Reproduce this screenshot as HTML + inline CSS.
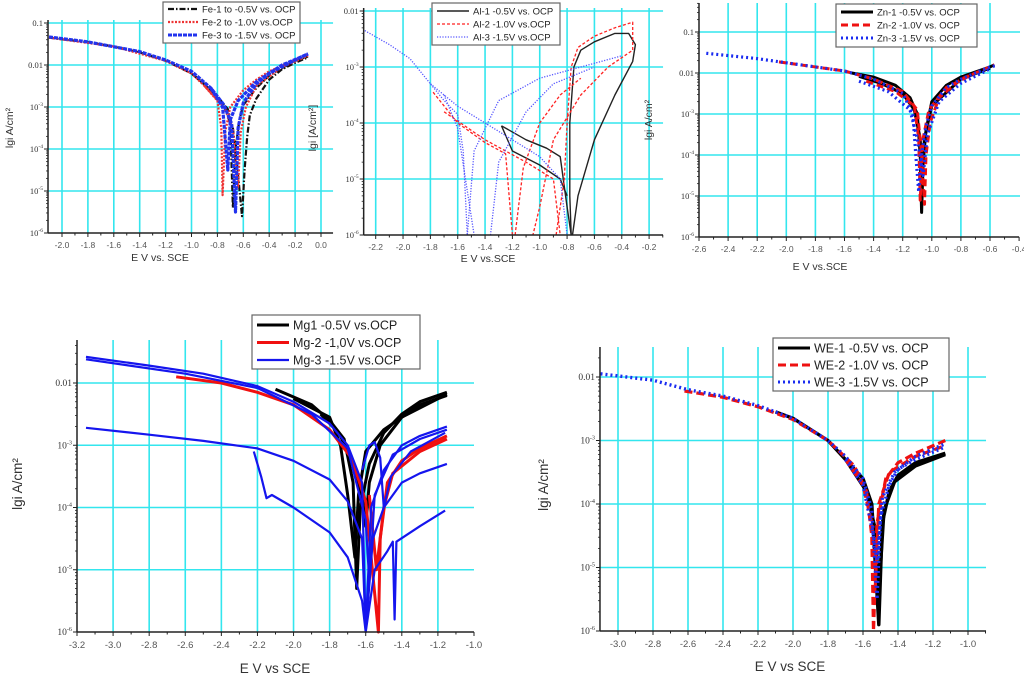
<!DOCTYPE html>
<html><head><meta charset="utf-8"><style>
html,body{margin:0;padding:0;background:#fff;}
svg{display:block;font-family:"Liberation Sans",sans-serif;}
</style></head><body>
<svg id="fig" width="1024" height="676" viewBox="0 0 1024 676" xmlns="http://www.w3.org/2000/svg"></svg>
<script>
// ---------- data (E in V vs SCE, log10 i in A/cm2) ----------
const feXTicks=[-2.0,-1.8,-1.6,-1.4,-1.2,-1.0,-0.8,-0.6,-0.4,-0.2,0.0];
const feYTicks=[-1,-2,-3,-4,-5,-6];
const fe1a=[[-2.1,-1.35],[-1.8,-1.46],[-1.6,-1.56],[-1.4,-1.7],[-1.2,-1.9],[-1.0,-2.2],[-0.9,-2.45],[-0.8,-2.75],[-0.72,-3.05],[-0.68,-3.5],[-0.65,-4.3],[-0.61,-5.6],[-0.59,-4.5],[-0.57,-3.7],[-0.55,-3.2],[-0.5,-2.8],[-0.4,-2.35],[-0.3,-2.1],[-0.2,-1.95],[-0.1,-1.82]];
const fe1b=[[-1.0,-2.2],[-0.85,-2.6],[-0.75,-2.95],[-0.7,-3.4],[-0.68,-5.4],[-0.66,-4.0],[-0.63,-3.3],[-0.6,-2.95],[-0.5,-2.55],[-0.4,-2.25],[-0.2,-1.9],[-0.1,-1.8]];
const fe2a=[[-2.1,-1.35],[-1.6,-1.56],[-1.2,-1.9],[-1.0,-2.2],[-0.9,-2.5],[-0.8,-2.85],[-0.77,-3.5],[-0.76,-5.1],[-0.74,-3.6],[-0.7,-3.0],[-0.6,-2.6],[-0.5,-2.35],[-0.4,-2.15],[-0.2,-1.88],[-0.1,-1.75]];
const fe2b=[[-0.9,-2.5],[-0.75,-3.0],[-0.68,-3.5],[-0.64,-4.9],[-0.62,-3.6],[-0.58,-3.0],[-0.5,-2.5],[-0.3,-2.05],[-0.1,-1.78]];
const fe3a=[[-2.1,-1.33],[-1.8,-1.45],[-1.4,-1.68],[-1.2,-1.88],[-1.0,-2.15],[-0.85,-2.55],[-0.75,-2.95],[-0.69,-3.4],[-0.66,-5.5],[-0.64,-3.5],[-0.6,-2.9],[-0.5,-2.45],[-0.4,-2.2],[-0.2,-1.88],[-0.1,-1.73]];
const fe3b=[[-0.85,-2.55],[-0.76,-3.0],[-0.72,-4.5],[-0.7,-3.3],[-0.64,-2.85],[-0.5,-2.4],[-0.3,-2.0],[-0.1,-1.74]];

const alXTicks=[-2.2,-2.0,-1.8,-1.6,-1.4,-1.2,-1.0,-0.8,-0.6,-0.4,-0.2];
const alYTicks=[-2,-3,-4,-5,-6];
const al3a=[[-2.28,-2.35],[-2.1,-2.6],[-1.95,-2.85],[-1.8,-3.3],[-1.7,-3.6],[-1.6,-3.85],[-1.56,-4.5],[-1.53,-6]];
const al3b=[[-1.53,-6],[-1.48,-4.5],[-1.3,-3.6],[-1.0,-3.2],[-0.7,-3.0],[-0.4,-2.8]];
const al3c=[[-1.8,-3.3],[-1.6,-3.7],[-1.4,-4.0],[-1.2,-4.3],[-1.0,-4.6],[-0.85,-5.0],[-0.8,-6]];
const al3d=[[-1.7,-3.5],[-1.6,-4.1],[-1.48,-6]];
const al3e=[[-1.36,-6],[-1.3,-4.7],[-1.1,-3.8],[-0.9,-3.3],[-0.6,-3.0]];
const al2a=[[-1.78,-3.45],[-1.6,-4.0],[-1.4,-4.35],[-1.25,-4.55],[-1.2,-6]];
const al2b=[[-1.7,-3.8],[-1.4,-4.3],[-1.1,-4.7],[-0.9,-5.0],[-0.85,-6]];
const al2c=[[-0.88,-6],[-0.82,-5.0],[-0.8,-4.0],[-0.77,-3.0],[-0.72,-2.65],[-0.6,-2.45],[-0.45,-2.3],[-0.32,-2.2],[-0.32,-2.7],[-0.5,-3.0],[-0.7,-3.5],[-0.9,-4.3],[-1.0,-5.5],[-1.05,-6]];
const al2d=[[-1.18,-6],[-1.12,-4.8],[-1.0,-4.0],[-0.85,-3.5],[-0.7,-3.2]];
const al1a=[[-1.28,-4.05],[-1.1,-4.3],[-0.95,-4.45],[-0.85,-4.6],[-0.8,-5.5],[-0.77,-6]];
const al1b=[[-1.28,-4.05],[-1.2,-4.5],[-1.0,-4.75],[-0.85,-5.0],[-0.8,-5.3]];
const al1c=[[-0.77,-6],[-0.78,-5.3],[-0.78,-4.0],[-0.75,-3.0],[-0.7,-2.7],[-0.6,-2.55],[-0.45,-2.4],[-0.35,-2.4],[-0.3,-2.6],[-0.32,-2.9],[-0.45,-3.5],[-0.6,-4.3],[-0.72,-5.3],[-0.76,-6]];

const znXTicks=[-2.6,-2.4,-2.2,-2.0,-1.8,-1.6,-1.4,-1.2,-1.0,-0.8,-0.6,-0.4];
const znYTicks=[-1,-2,-3,-4,-5,-6];
const zn3a=[[-2.55,-1.52],[-2.2,-1.65],[-2.0,-1.75],[-1.6,-1.95],[-1.4,-2.15],[-1.2,-2.5],[-1.13,-3.0],[-1.11,-4.0],[-1.09,-4.9],[-1.07,-4.0],[-1.04,-3.3],[-1.0,-2.8],[-0.9,-2.35],[-0.8,-2.15],[-0.6,-1.85],[-0.56,-1.82]];
const zn3b=[[-1.5,-2.2],[-1.3,-2.45],[-1.15,-2.9],[-1.1,-3.6],[-1.06,-4.5],[-1.03,-3.5],[-0.95,-2.7],[-0.8,-2.25],[-0.6,-1.9]];
const zn1a=[[-1.55,-2.0],[-1.4,-2.1],[-1.25,-2.3],[-1.15,-2.6],[-1.1,-3.0],[-1.08,-4.0],[-1.07,-5.4],[-1.06,-4.2],[-1.04,-3.4],[-1.0,-2.7],[-0.9,-2.3],[-0.8,-2.1],[-0.6,-1.85],[-0.57,-1.8]];
const zn1b=[[-1.5,-2.08],[-1.35,-2.25],[-1.2,-2.5],[-1.12,-2.9],[-1.08,-3.6],[-1.07,-4.5],[-1.05,-3.6],[-1.0,-2.8],[-0.8,-2.15],[-0.6,-1.88]];
const zn2a=[[-2.05,-1.73],[-1.6,-1.95],[-1.4,-2.15],[-1.2,-2.45],[-1.1,-2.9],[-1.07,-4.0],[-1.05,-5.2],[-1.04,-4.0],[-1.01,-3.2],[-0.95,-2.6],[-0.8,-2.15],[-0.6,-1.85],[-0.57,-1.8]];
const zn2b=[[-1.45,-2.2],[-1.25,-2.45],[-1.12,-2.8],[-1.09,-3.6],[-1.08,-5.1],[-1.06,-3.6],[-1.02,-2.9],[-0.9,-2.35],[-0.7,-2.0]];

const mgXTicks=[-3.2,-3.0,-2.8,-2.6,-2.4,-2.2,-2.0,-1.8,-1.6,-1.4,-1.2,-1.0];
const mgYTicks=[-2,-3,-4,-5,-6];
const mg1a=[[-2.1,-2.1],[-1.9,-2.35],[-1.8,-2.6],[-1.72,-2.9],[-1.67,-3.6],[-1.65,-5.3],[-1.63,-4.0],[-1.58,-3.3],[-1.5,-2.8],[-1.4,-2.5],[-1.3,-2.3],[-1.15,-2.15]];
const mg1b=[[-1.85,-2.5],[-1.75,-2.8],[-1.68,-3.2],[-1.62,-3.8],[-1.6,-4.3],[-1.58,-3.6],[-1.52,-3.0],[-1.4,-2.55],[-1.15,-2.18]];
const mg1c=[[-2.0,-2.25],[-1.8,-2.55],[-1.74,-3.0],[-1.7,-3.8],[-1.66,-4.8],[-1.64,-3.8],[-1.6,-3.1],[-1.5,-2.75],[-1.3,-2.35],[-1.15,-2.2]];
const mg2a=[[-2.65,-1.9],[-2.4,-2.0],[-2.2,-2.15],[-2.0,-2.35],[-1.8,-2.75],[-1.68,-3.2],[-1.6,-3.9],[-1.53,-6],[-1.52,-4.5],[-1.48,-3.6],[-1.4,-3.25],[-1.3,-3.05],[-1.15,-2.85]];
const mg2b=[[-1.58,-3.8],[-1.54,-5.0],[-1.5,-4.0],[-1.45,-3.45],[-1.3,-3.1],[-1.15,-2.9]];
const mg3a=[[-3.15,-1.58],[-2.8,-1.72],[-2.5,-1.85],[-2.2,-2.05],[-2.0,-2.3],[-1.8,-2.65],[-1.7,-3.0],[-1.62,-3.6],[-1.6,-6],[-1.57,-4.0],[-1.5,-3.4],[-1.4,-3.0],[-1.3,-2.85],[-1.15,-2.7]];
const mg3b=[[-3.15,-2.72],[-2.8,-2.83],[-2.5,-2.93],[-2.2,-3.05],[-2.0,-3.25],[-1.8,-3.55],[-1.7,-3.9],[-1.62,-4.5],[-1.6,-6],[-1.56,-4.5],[-1.5,-4.0],[-1.4,-3.6],[-1.3,-3.45],[-1.15,-3.3]];
const mg3c=[[-2.22,-3.1],[-2.18,-3.5],[-2.15,-3.85],[-2.12,-3.8],[-2.0,-4.0],[-1.8,-4.4],[-1.7,-4.8],[-1.62,-5.5],[-1.6,-6],[-1.55,-5.0],[-1.48,-4.7],[-1.45,-4.55],[-1.44,-5.8],[-1.43,-4.55],[-1.3,-4.3],[-1.16,-4.05]];
const mg3d=[[-1.62,-3.4],[-1.58,-3.0],[-1.55,-2.95],[-1.52,-3.2],[-1.5,-4.0],[-1.46,-3.5],[-1.35,-3.1],[-1.16,-2.8]];
const mg3e=[[-3.15,-1.62],[-2.6,-1.85],[-2.2,-2.08],[-1.9,-2.5],[-1.7,-3.05],[-1.6,-4.2],[-1.58,-5.2],[-1.55,-3.8],[-1.45,-3.15],[-1.3,-2.9],[-1.15,-2.75]];

const weXTicks=[-3.0,-2.8,-2.6,-2.4,-2.2,-2.0,-1.8,-1.6,-1.4,-1.2,-1.0];
const weYTicks=[-2,-3,-4,-5,-6];
const we3a=[[-3.1,-1.95],[-2.8,-2.05],[-2.6,-2.2],[-2.4,-2.3],[-2.2,-2.45],[-2.0,-2.65],[-1.8,-3.0],[-1.7,-3.25],[-1.6,-3.6],[-1.55,-4.1],[-1.52,-5.5],[-1.5,-4.2],[-1.45,-3.7],[-1.4,-3.45],[-1.3,-3.3],[-1.13,-3.1]];
const we3b=[[-1.7,-3.3],[-1.6,-3.7],[-1.54,-4.5],[-1.52,-4.9],[-1.49,-3.9],[-1.42,-3.5],[-1.3,-3.25],[-1.13,-3.05]];
const we2a=[[-2.62,-2.22],[-2.4,-2.32],[-2.2,-2.47],[-2.0,-2.67],[-1.8,-3.0],[-1.65,-3.4],[-1.58,-3.8],[-1.55,-4.5],[-1.54,-6],[-1.52,-4.3],[-1.47,-3.6],[-1.4,-3.35],[-1.3,-3.2],[-1.13,-3.0]];
const we2b=[[-1.7,-3.3],[-1.6,-3.7],[-1.55,-4.3],[-1.53,-5.3],[-1.51,-4.0],[-1.45,-3.5],[-1.3,-3.25],[-1.13,-3.08]];
const we1a=[[-2.1,-2.55],[-2.0,-2.65],[-1.8,-3.0],[-1.6,-3.6],[-1.55,-4.0],[-1.51,-5.9],[-1.49,-4.3],[-1.45,-3.8],[-1.4,-3.55],[-1.3,-3.35],[-1.13,-3.2]];
const we1b=[[-1.7,-3.3],[-1.58,-3.8],[-1.53,-4.4],[-1.51,-5.4],[-1.48,-4.1],[-1.42,-3.65],[-1.3,-3.4],[-1.13,-3.22]];

// ---------- drawing ----------
const NS='http://www.w3.org/2000/svg';
const svg=document.getElementById('fig');
function mk(tag,attrs,parent){const e=document.createElementNS(NS,tag);for(const k in attrs)e.setAttribute(k,attrs[k]);(parent||svg).appendChild(e);return e;}

function panel(cfg){
  const g=mk('g',{});
  
  
  const sx=v=>cfg.px0+(v-cfg.x0)*cfg.pxPer;
  const sy=l=>cfg.yTopPx+(cfg.yTopLog-l)*cfg.dec;
  const L=sx(cfg.xmin),R=sx(cfg.xmax),B=sy(-6),T=cfg.axTop;
  cfg.xt.forEach(v=>{const x=sx(v);if(x>L+1&&x<R-0.5){const ln=mk('line',{x1:x,x2:x,y1:T,y2:B,stroke:'#33e6ee','stroke-width':1.6},g);}});
  cfg.yt.forEach(l=>{if(l>-6){const y=sy(l);const ln=mk('line',{x1:L,x2:cfg.gridR||R,y1:y,y2:y,stroke:'#33e6ee','stroke-width':1.6},g);}});
  cfg.series.forEach(s=>{s.curves.forEach(c=>{
    const d=c.map((p,i)=>(i?'L':'M')+sx(p[0]).toFixed(1)+' '+sy(p[1]).toFixed(1)).join(' ');
    const path=mk('path',{d:d,fill:'none',stroke:s.color,'stroke-width':s.w,'stroke-dasharray':s.dash||'none','stroke-linejoin':'round'},g);
    
    
  });});
  mk('line',{x1:L,x2:L,y1:T,y2:B,stroke:'#222','stroke-width':1.5},g);
  mk('line',{x1:L,x2:R,y1:B,y2:B,stroke:'#222','stroke-width':1.5},g);
  cfg.xt.forEach(v=>{const x=sx(v);mk('line',{x1:x,x2:x,y1:B,y2:B+4,stroke:'#222'},g);
    const t=mk('text',{x:x,y:B+cfg.xlOff,'font-size':cfg.fs,fill:'#555','text-anchor':'middle'},g);t.textContent=v.toFixed(1);
    
    const xm=sx(v+0.1);if(xm<R)mk('line',{x1:xm,x2:xm,y1:B,y2:B+2.5,stroke:'#222'},g);});
  cfg.yt.forEach(l=>{const y=sy(l);mk('line',{x1:L-4,x2:L,y1:y,y2:y,stroke:'#222'},g);
    for(let k=2;k<10;k++){const ym=sy(l+Math.log10(k));if(ym>T)mk('line',{x1:L-2,x2:L,y1:ym,y2:ym,stroke:'#222','stroke-width':0.8},g);}
    const t=mk('text',{x:L-5,y:y+3,'font-size':cfg.fs,fill:'#333','text-anchor':'end','font-family':'Liberation Serif, serif'},g);
    
    if(l>=-2){t.textContent=(l===-1?'0.1':'0.01');}else{t.textContent='10';const ts=mk('tspan',{dy:-4,'font-size':cfg.fs*0.65},t);ts.textContent=String(l);}
  });
  const xt=mk('text',{x:cfg.xtPos[0],y:cfg.xtPos[1],'font-size':cfg.tfs,fill:'#333','text-anchor':'middle'},g);xt.textContent=cfg.xTitle;
  
  const yt=mk('text',{x:0,y:0,'font-size':cfg.tfs,fill:'#333','text-anchor':'middle',transform:`translate(${cfg.ytPos[0]},${cfg.ytPos[1]}) rotate(-90)`},g);yt.textContent=cfg.yTitle;
  
  const lg=cfg.legend;const lgG=mk('g',{},g);
  
  mk('rect',{x:lg.x,y:lg.y,width:lg.w,height:lg.h,fill:'#fff',stroke:'#666','stroke-width':1.2},lgG);
  cfg.series.forEach((s,i)=>{const yy=lg.y+lg.pad+i*lg.row;
    mk('line',{x1:lg.x+5,x2:lg.x+5+lg.sw,y1:yy,y2:yy,stroke:s.color,'stroke-width':Math.min(s.w,3),'stroke-dasharray':s.dash||'none'},lgG);
    const t=mk('text',{x:lg.x+9+lg.sw,y:yy+lg.fs*0.36,'font-size':lg.fs,fill:'#222'},lgG);t.textContent=s.label;
    });
}

panel({name:'fe-panel',x0:-2.0,px0:62,pxPer:129.5,xmin:-2.108,xmax:0.093,yTopLog:-1,yTopPx:23,dec:42,axTop:20,xt:feXTicks,yt:feYTicks,fs:8.5,xlOff:15,tfs:10.5,
  xTitle:'E  V vs. SCE',xtPos:[160,261],yTitle:'lgi  A/cm²',ytPos:[13,128],
  legend:{x:163,y:2,w:137,h:41,pad:7,row:13,sw:30,fs:9.5},
  series:[{id:'fe-1',label:'Fe-1 to -0.5V vs. OCP',color:'#111',w:2.2,dash:'6 2 1.5 2',curves:[fe1a,fe1b]},
          {id:'fe-2',label:'Fe-2 to -1.0V vs.OCP',color:'#e33',w:2.2,dash:'2 1.5',curves:[fe2a,fe2b]},
          {id:'fe-3',label:'Fe-3 to -1.5V vs. OCP',color:'#2233ee',w:3.2,dash:'4 1',curves:[fe3a,fe3b]}]});
panel({name:'al-panel',x0:-2.2,px0:375.7,pxPer:136.7,xmin:-2.288,xmax:-0.098,yTopLog:-2,yTopPx:11,dec:56,axTop:8,xt:alXTicks,yt:alYTicks,fs:8.5,xlOff:15,tfs:10.5,
  xTitle:'E  V vs.SCE',xtPos:[488,262],yTitle:'lgi [A/cm²]',ytPos:[316,128],
  legend:{x:432,y:3,w:128,h:42,pad:8,row:13,sw:32,fs:9.5},
  series:[{id:'al-1',label:'Al-1 -0.5V vs. OCP',color:'#222',w:1.4,curves:[al1a,al1b,al1c]},
          {id:'al-2',label:'Al-2 -1.0V vs.OCP',color:'#f22',w:1.3,dash:'3 2',curves:[al2a,al2b,al2c,al2d]},
          {id:'al-3',label:'Al-3 -1.5V vs.OCP',color:'#55f',w:1.3,dash:'1.2 1.5',curves:[al3a,al3b,al3c,al3d,al3e]}]});
panel({name:'zn-panel',x0:-2.6,px0:699,pxPer:145.5,xmin:-2.6,xmax:-0.4,yTopLog:-2,yTopPx:73,dec:41,axTop:3,gridR:1020,xt:znXTicks,yt:znYTicks,fs:8.5,xlOff:15,tfs:10.5,
  xTitle:'E   V vs.SCE',xtPos:[820,270],yTitle:'lgi  A/cm²',ytPos:[652,120],
  legend:{x:836,y:4,w:141,h:43,pad:8,row:13,sw:32,fs:9.5},
  series:[{id:'zn-1',label:'Zn-1  -0.5V vs. OCP',color:'#000',w:3,curves:[zn1a,zn1b]},
          {id:'zn-2',label:'Zn-2  -1.0V vs. OCP',color:'#ee1111',w:3,dash:'7 4',curves:[zn2a,zn2b]},
          {id:'zn-3',label:'Zn-3  -1.5V vs. OCP',color:'#1a2cf0',w:3.2,dash:'2 3',curves:[zn3a,zn3b]}]});
panel({name:'mg-panel',x0:-3.2,px0:77,pxPer:180.45,xmin:-3.2,xmax:-1.0,yTopLog:-2,yTopPx:383,dec:62.25,axTop:340,xt:mgXTicks,yt:mgYTicks,fs:9.5,xlOff:16,tfs:13.5,
  xTitle:'E   V vs SCE',xtPos:[275,673],yTitle:'lgi  A/cm²',ytPos:[22,484],
  legend:{x:252,y:315,w:168,h:54,pad:10,row:17.5,sw:32,fs:12.5},
  series:[{id:'mg-1',label:'Mg1 -0.5V vs.OCP',color:'#000',w:3,curves:[mg1a,mg1b,mg1c]},
          {id:'mg-2',label:'Mg-2 -1,0V vs.OCP',color:'#f01010',w:3,curves:[mg2a,mg2b]},
          {id:'mg-3',label:'Mg-3 -1.5V vs.OCP',color:'#1515ee',w:2.2,curves:[mg3a,mg3b,mg3c,mg3d,mg3e]}]});
panel({name:'we-panel',x0:-3.0,px0:618,pxPer:175,xmin:-3.103,xmax:-0.897,yTopLog:-2,yTopPx:377,dec:63.5,axTop:347,xt:weXTicks,yt:weYTicks,fs:9.5,xlOff:16,tfs:13.5,
  xTitle:'E   V vs SCE',xtPos:[790,671],yTitle:'lgi  A/cm²',ytPos:[548,485],
  legend:{x:773,y:338,w:176,h:53,pad:10,row:17,sw:32,fs:12.5},
  series:[{id:'we-1',label:'WE-1 -0.5V  vs. OCP',color:'#000',w:3.4,curves:[we1a,we1b]},
          {id:'we-2',label:'WE-2  -1.0V vs. OCP',color:'#ee1111',w:3.2,dash:'8 4',curves:[we2a,we2b]},
          {id:'we-3',label:'WE-3  -1.5V vs. OCP',color:'#1a2cf0',w:3.4,dash:'2 3',curves:[we3a,we3b]}]});
</script>
</body></html>
